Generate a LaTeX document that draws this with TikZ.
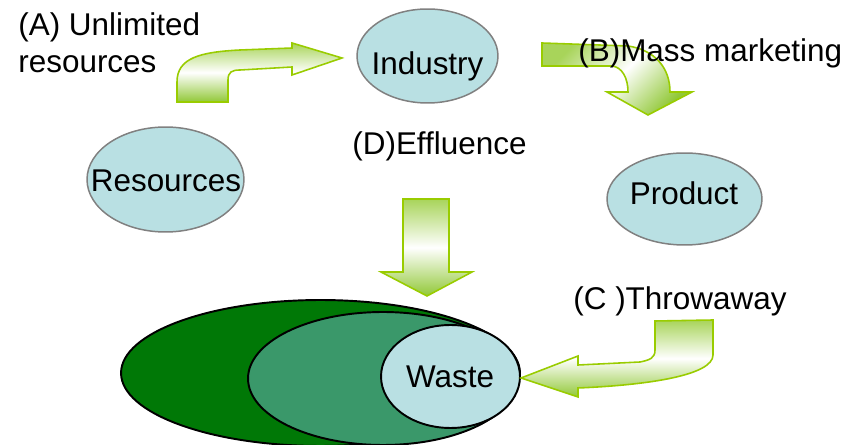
\documentclass[tikz,border=0pt]{standalone}
\usepackage{fontspec}
\setmainfont{Liberation Sans}
\usetikzlibrary{shapes.geometric}
\definecolor{lblue}{RGB}{185,224,227}
\definecolor{eborder}{RGB}{128,128,128}
\definecolor{dgreen}{RGB}{0,120,6}
\definecolor{mgreen}{RGB}{58,152,106}
\definecolor{arrline}{RGB}{153,204,0}
\definecolor{arrtop}{RGB}{168,212,90}
\definecolor{arrbot}{RGB}{145,200,55}
\begin{document}
\begin{tikzpicture}[x=0.02cm,y=-0.02cm,
  font=\fontsize{17.9}{21}\selectfont,
  ell/.style={ellipse, inner sep=0pt, fill=lblue, draw=eborder, line width=0.85pt},
  pool/.style={ellipse, inner sep=0pt, draw=black, line width=1.1pt},
  lbl/.style={inner sep=0pt, text=black},
  barrow/.style={draw=arrline, line width=0.9pt, top color=arrtop, bottom color=arrbot, middle color=white}]
\useasboundingbox (0,0) rectangle (865,445);
% ellipses
\node[ell, minimum width=2.82cm, minimum height=1.88cm] (industry) at (427.5,56) {};
\node[ell, minimum width=3.14cm, minimum height=2.10cm] (resources) at (165.5,179.5) {};
\node[ell, minimum width=3.10cm, minimum height=1.84cm] (product) at (684.5,199) {};
\node[pool, fill=dgreen, minimum width=7.98cm, minimum height=2.92cm] (outer) at (320.5,373) {};
\node[pool, fill=mgreen, minimum width=5.40cm, minimum height=2.66cm] (middle) at (383,378.5) {};
\node[pool, fill=lblue, minimum width=2.78cm, minimum height=2.06cm] (waste) at (450.5,376.5) {};
% block arrows
\path[barrow] (177,102) -- (177,82) .. controls (177,58) and (200,52) .. (240,50)
  -- (292,48) -- (292,43) -- (342,58) -- (292,75) -- (292,67) -- (240,70)
  .. controls (232,70) and (228,72) .. (228,80) -- (228,102) -- cycle;
\path[barrow, shading angle=45] (542,43) -- (628,46) .. controls (655,50) and (670,68) .. (670,92)
  -- (692,92) -- (648,115) -- (607,92) -- (628,92)
  .. controls (628,78) and (622,67) .. (612,66) -- (542,66) -- cycle;
\path[barrow] (655,321) -- (713,320) -- (713,355) .. controls (713,375) and (650,385) .. (578,388)
  -- (578,397) -- (521,378) -- (578,356) -- (578,365) -- (640,362)
  .. controls (650,360) and (655,358) .. (655,350) -- cycle;
\path[barrow] (403,199) -- (449,199) -- (449,272) -- (472,272) -- (427,296)
  -- (381,272) -- (403,272) -- cycle;
% texts
\node[lbl, anchor=base] (tind) at (427.5,75) {Industry};
\node[lbl, anchor=base] (tres) at (166,192) {Resources};
\node[lbl, anchor=base] (tprod) at (684,205) {Product};
\node[lbl, anchor=base] (twaste) at (450,388) {Waste};
\node[lbl, anchor=north west, align=left] (ta) at (18,12) {(A) Unlimited\\resources};
\node[lbl, anchor=base west] (tb) at (578,62) {(B)Mass marketing};
\node[lbl, anchor=base west] (tc) at (573,310) {(C )Throwaway};
\node[lbl, anchor=base west] (td) at (352,155) {(D)Effluence};
\end{tikzpicture}
\end{document}
